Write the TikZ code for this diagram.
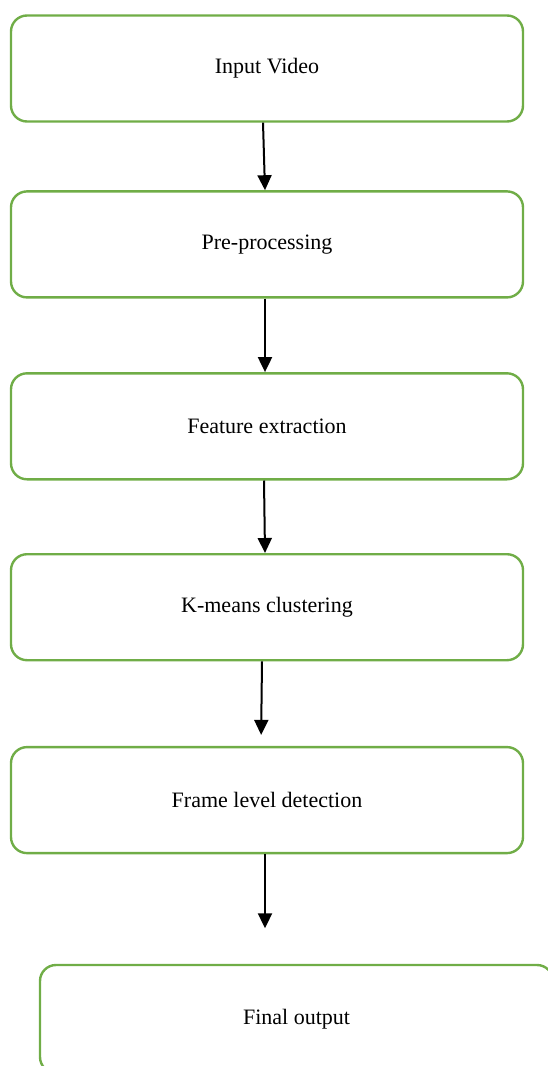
\documentclass[tikz,border=0pt]{standalone}
\usepackage{fontspec}
\setmainfont{Liberation Serif}
\usetikzlibrary{positioning, arrows.meta}
\definecolor{boxgreen}{HTML}{70AD47}

\begin{document}
\begin{tikzpicture}[
    x=1pt, y=-1pt,
    block/.style={rectangle, draw=boxgreen, line width=2.4pt, rounded corners=16pt, minimum width=512pt, minimum height=106pt, inner sep=0pt, font=\fontsize{22}{26}\selectfont},
    line/.style={draw, -{Triangle[width=14pt,length=15pt]}, line width=2pt}
]
    \useasboundingbox (0,0) rectangle (548,1066);
    \clip (0,0) rectangle (548,1066);
    % Nodes
    \node (input) [block] at (267,68.5) {Input Video};
    \node (pre) [block, below=67.5pt of input] {Pre-processing};
    \node (feature) [block, below=73.5pt of pre] {Feature extraction};
    \node (kmeans) [block, below=72.5pt of feature] {K-means clustering};
    \node (frame) [block, below=84.5pt of kmeans] {Frame level detection};
    \node (output) [block, minimum width=513pt, minimum height=108pt, below=109.5pt of frame, xshift=29.5pt] {Final output};
    \coordinate (outarrow) at ([xshift=-2pt, yshift=-74pt]frame.south);

    % Paths
    \path [line] ([xshift=-4pt]input.south) -- ([xshift=-2pt]pre.north);
    \path [line] ([xshift=-2pt]pre.south) -- ([xshift=-2pt]feature.north);
    \path [line] ([xshift=-3pt]feature.south) -- ([xshift=-2pt]kmeans.north);
    \path [line, shorten >=11pt] ([xshift=-5pt]kmeans.south) -- ([xshift=-6pt]frame.north);
    \path [line] ([xshift=-2pt]frame.south) -- (outarrow);
\end{tikzpicture}
\end{document}
